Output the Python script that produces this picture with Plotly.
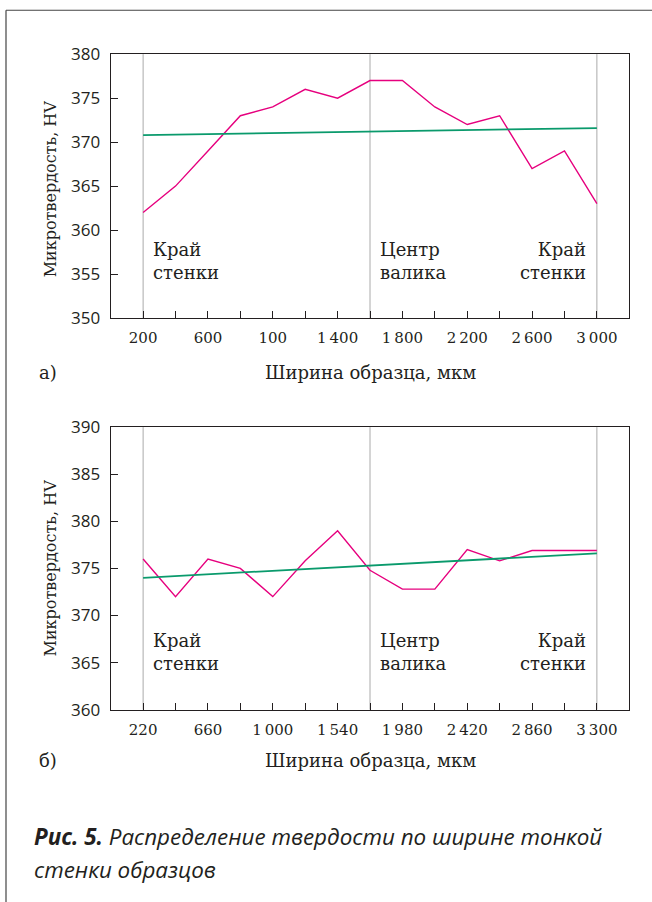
import plotly.graph_objects as go

# ---- data ----
x_a = [200, 400, 600, 800, 1000, 1200, 1400, 1600, 1800, 2000, 2200, 2400, 2600, 2800, 3000]
hv_a = [362, 365, 369, 373, 374, 376, 375, 377, 377, 374, 372, 373, 367, 369, 363]
trend_a_x = [200, 3000]
trend_a_y = [370.8, 371.6]
labels_a = ["200", "600", "100", "1\u2009400", "1\u2009800", "2\u2009200", "2\u2009600", "3\u2009000"]
marks_a = [200, 1600, 3000]

x_b = [220, 440, 660, 880, 1100, 1320, 1540, 1760, 1980, 2200, 2420, 2640, 2860, 3080, 3300]
hv_b = [376, 372, 376, 375, 372, 375.8, 379, 374.8, 372.8, 372.8, 377, 375.8, 376.9, 376.9, 376.9]
trend_b_x = [220, 3300]
trend_b_y = [374.0, 376.6]
labels_b = ["220", "660", "1\u2009000", "1\u2009540", "1\u2009980", "2\u2009420", "2\u2009860", "3\u2009300"]
marks_b = [220, 1760, 3300]

y_title = "Микротвердость, HV"
x_title = "Ширина образца, мкм"
edge_text = "Край<br>стенки"
center_text = "Центр<br>валика"

MAGENTA = "#e6007e"
GREEN = "#0a9a6c"
INK = "#231f20"
SERIF = "DejaVu Serif"
SANS = "Open Sans"

W, H = 652, 902
def px(x):
    return x / W
def py(y):
    # screen y (px from top) -> paper fraction, compensating the observed vertical mapping
    return 1 - (y - 11.25) / 881.0

fig = go.Figure()
fig.add_trace(go.Scatter(x=x_a, y=hv_a, mode="lines", line=dict(color=MAGENTA, width=1.4),
                         xaxis="x", yaxis="y", showlegend=False))
fig.add_trace(go.Scatter(x=trend_a_x, y=trend_a_y, mode="lines", line=dict(color=GREEN, width=1.8),
                         xaxis="x", yaxis="y", showlegend=False))
fig.add_trace(go.Scatter(x=x_b, y=hv_b, mode="lines", line=dict(color=MAGENTA, width=1.4),
                         xaxis="x2", yaxis="y2", showlegend=False))
fig.add_trace(go.Scatter(x=trend_b_x, y=trend_b_y, mode="lines", line=dict(color=GREEN, width=1.8),
                         xaxis="x2", yaxis="y2", showlegend=False))

def ticktext(xs, labels):
    out = []
    for i in range(len(xs)):
        out.append(labels[i // 2] if i % 2 == 0 else "")
    return out

axis_common = dict(showline=True, linecolor=INK, linewidth=1.3, mirror=True, showgrid=False,
                   zeroline=False, ticks="inside", ticklen=7, tickcolor=INK, tickwidth=1)

xd = [px(110.7), px(629.3)]
fig.update_layout(
    width=W, height=H, margin=dict(l=0, r=0, t=0, b=0),
    paper_bgcolor="white", plot_bgcolor="white",
    xaxis=dict(domain=xd, range=[0, 3200], tickmode="array", tickvals=x_a,
               ticktext=ticktext(x_a, labels_a), anchor="y",
               tickfont=dict(family=SERIF, size=15, color=INK), ticklabelstandoff=6, **axis_common),
    yaxis=dict(domain=[py(318), py(53.5)], range=[350, 380], dtick=5, anchor="x",
               tickfont=dict(family=SANS, size=17, color=INK), ticklabelstandoff=6, **axis_common),
    xaxis2=dict(domain=xd, range=[0, 3520], tickmode="array", tickvals=x_b,
                ticktext=ticktext(x_b, labels_b), anchor="y2",
                tickfont=dict(family=SERIF, size=15, color=INK), ticklabelstandoff=6, **axis_common),
    yaxis2=dict(domain=[py(710.5), py(427.3)], range=[360, 390], dtick=5, anchor="x2",
                tickfont=dict(family=SANS, size=17, color=INK), ticklabelstandoff=6, **axis_common),
)

shapes = []
for xv in marks_a:
    shapes.append(dict(type="line", xref="x", yref="y domain", x0=xv, x1=xv, y0=0, y1=1,
                       line=dict(color="#aaaaaa", width=1), layer="below"))
for xv in marks_b:
    shapes.append(dict(type="line", xref="x2", yref="y2 domain", x0=xv, x1=xv, y0=0, y1=1,
                       line=dict(color="#aaaaaa", width=1), layer="below"))
# outer frame (left and top edges)
shapes.append(dict(type="line", xref="paper", yref="paper", x0=px(6), x1=px(6), y0=-0.05, y1=py(9.5),
                   line=dict(color="#444444", width=1.2)))
shapes.append(dict(type="line", xref="paper", yref="paper", x0=px(6), x1=1, y0=py(9.5), y1=py(9.5),
                   line=dict(color="#444444", width=1.2)))
fig.update_layout(shapes=shapes)

ann = []
tf = dict(family=SERIF, size=18, color=INK)
yf = dict(family=SERIF, size=16, color=INK)
for (xr, yr, marks, ypos) in [("x", "y domain", marks_a, 0.215), ("x2", "y2 domain", marks_b, 0.205)]:
    ann.append(dict(xref=xr, yref=yr, x=marks[0], y=ypos, text=edge_text, showarrow=False,
                    xanchor="left", yanchor="middle", align="left", xshift=8, font=tf))
    ann.append(dict(xref=xr, yref=yr, x=marks[1], y=ypos, text=center_text, showarrow=False,
                    xanchor="left", yanchor="middle", align="left", xshift=8, font=tf))
    ann.append(dict(xref=xr, yref=yr, x=marks[2], y=ypos, text=edge_text, showarrow=False,
                    xanchor="right", yanchor="middle", align="right", xshift=-9, font=tf))

for (yc, lab, ycen) in [(373, "а)", 189), (761, "б)", 569)]:
    ann.append(dict(xref="paper", yref="paper", x=px(37), y=py(yc), text=lab, showarrow=False,
                    xanchor="left", yanchor="middle", font=tf))
    ann.append(dict(xref="paper", yref="paper", x=px(370), y=py(yc), text=x_title, showarrow=False,
                    xanchor="center", yanchor="middle", font=tf))
    ann.append(dict(xref="paper", yref="paper", x=px(50), y=py(ycen), text=y_title, showarrow=False,
                    xanchor="center", yanchor="middle", textangle=-90, font=yf))

cf = dict(family=SANS, size=22.4, color=INK)
ann.append(dict(xref="paper", yref="paper", x=px(32), y=py(838), showarrow=False, xanchor="left",
                yanchor="middle", font=cf,
                text="<b><i>Рис. 5.</i></b><i> Распределение твердости по ширине тонкой</i>"))
ann.append(dict(xref="paper", yref="paper", x=px(32), y=py(871), showarrow=False, xanchor="left",
                yanchor="middle", font=cf, text="<i>стенки образцов</i>"))
fig.update_layout(annotations=ann)

fig.write_html("out.html")
